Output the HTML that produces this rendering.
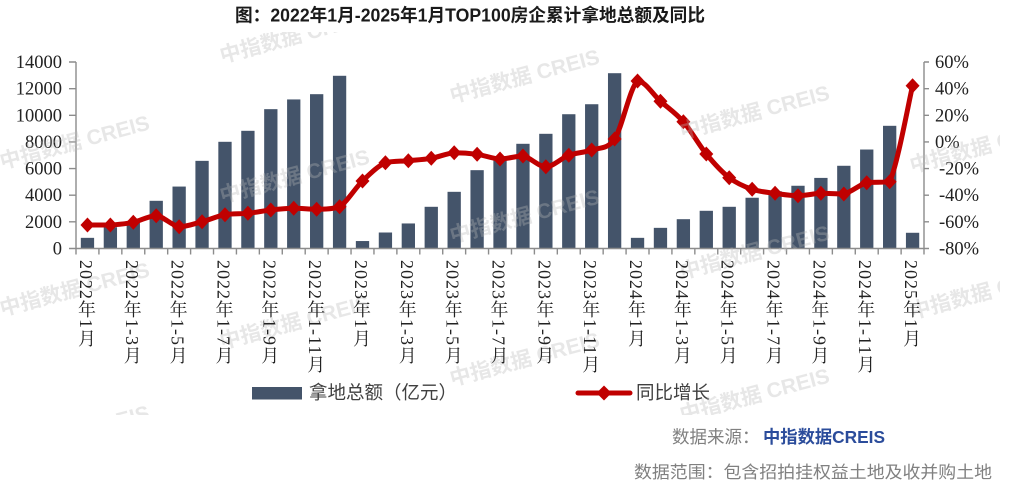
<!DOCTYPE html>
<html>
<head>
<meta charset="utf-8">
<style>
  html,body{margin:0;padding:0;background:#fff;}
  #wrap{position:relative;width:1023px;height:489px;overflow:hidden;background:#fff;}
  svg{position:absolute;left:0;top:0;}
  .xl{position:absolute;top:260px;width:18px;writing-mode:vertical-rl;text-orientation:mixed;
      font-family:"Liberation Serif","Noto Serif CJK SC",serif;font-size:18px;line-height:18px;
      letter-spacing:1px;color:#222;white-space:nowrap;}
</style>
</head>
<body>
<div id="wrap">
<svg width="1023" height="489" viewBox="0 0 1023 489" xmlns="http://www.w3.org/2000/svg">
  <defs>
    <marker id="dm" markerUnits="userSpaceOnUse" markerWidth="16" markerHeight="17" refX="8" refY="8.5" orient="0" viewBox="0 0 16 17">
      <path d="M8,1 L15,8.5 L8,16 L1,8.5 Z" fill="#C00000"/>
    </marker>
    <clipPath id="wmclip"><rect x="0" y="32" width="1000" height="383"/></clipPath>
  </defs>

  <!-- Title -->
  <text x="235" y="21.5" textLength="470" lengthAdjust="spacingAndGlyphs" font-family="'Liberation Sans','Noto Sans CJK SC',sans-serif" font-size="18" font-weight="bold" fill="#1a1a1a">图：2022年1月-2025年1月TOP100房企累计拿地总额及同比</text>

  <!-- Bars -->
  <g fill="#44546A">
    <rect x="80.81" y="237.84" width="13.3" height="10.66"/>
    <rect x="103.73" y="227.19" width="13.3" height="21.31"/>
    <rect x="126.65" y="222.52" width="13.3" height="25.98"/>
    <rect x="149.57" y="200.81" width="13.3" height="47.69"/>
    <rect x="172.49" y="186.56" width="13.3" height="61.94"/>
    <rect x="195.41" y="160.85" width="13.3" height="87.65"/>
    <rect x="218.33" y="141.80" width="13.3" height="106.70"/>
    <rect x="241.25" y="130.81" width="13.3" height="117.69"/>
    <rect x="264.17" y="109.16" width="13.3" height="139.34"/>
    <rect x="287.09" y="99.44" width="13.3" height="149.06"/>
    <rect x="310.01" y="94.18" width="13.3" height="154.32"/>
    <rect x="332.93" y="75.79" width="13.3" height="172.71"/>
    <rect x="355.85" y="241.04" width="13.3" height="7.46"/>
    <rect x="378.77" y="232.51" width="13.3" height="15.99"/>
    <rect x="401.69" y="223.46" width="13.3" height="25.04"/>
    <rect x="424.61" y="206.80" width="13.3" height="41.70"/>
    <rect x="447.53" y="191.82" width="13.3" height="56.68"/>
    <rect x="470.45" y="170.17" width="13.3" height="78.33"/>
    <rect x="493.37" y="156.59" width="13.3" height="91.91"/>
    <rect x="516.29" y="143.80" width="13.3" height="104.70"/>
    <rect x="539.21" y="133.81" width="13.3" height="114.69"/>
    <rect x="562.13" y="114.22" width="13.3" height="134.28"/>
    <rect x="585.05" y="104.23" width="13.3" height="144.27"/>
    <rect x="607.97" y="73.20" width="13.3" height="175.30"/>
    <rect x="630.89" y="237.84" width="13.3" height="10.66"/>
    <rect x="653.81" y="227.85" width="13.3" height="20.65"/>
    <rect x="676.73" y="219.19" width="13.3" height="29.31"/>
    <rect x="699.65" y="210.80" width="13.3" height="37.70"/>
    <rect x="722.57" y="206.80" width="13.3" height="41.70"/>
    <rect x="745.49" y="197.75" width="13.3" height="50.75"/>
    <rect x="768.41" y="191.22" width="13.3" height="57.28"/>
    <rect x="791.33" y="185.76" width="13.3" height="62.74"/>
    <rect x="814.25" y="177.90" width="13.3" height="70.60"/>
    <rect x="837.17" y="165.78" width="13.3" height="82.72"/>
    <rect x="860.09" y="149.53" width="13.3" height="98.97"/>
    <rect x="883.01" y="125.81" width="13.3" height="122.69"/>
    <rect x="905.93" y="232.78" width="13.3" height="15.72"/>
  </g>

  <!-- Axes -->
  <g stroke="#8c8c8c" stroke-width="1.4" fill="none">
    <line x1="76" y1="62" x2="76" y2="248.5"/>
    <line x1="924" y1="62" x2="924" y2="248.5"/>
    <line x1="76" y1="248.5" x2="924" y2="248.5"/>
    <path d="M69,248.5H76M69,221.86H76M69,195.21H76M69,168.57H76M69,141.93H76M69,115.29H76M69,88.64H76M69,62H76"/>
    <path d="M924,62H929M924,88.64H929M924,115.29H929M924,141.93H929M924,168.57H929M924,195.21H929M924,221.86H929M924,248.5H929"/>
    <path d="M76,248.5V254.5M98.92,248.5V254.5M121.84,248.5V254.5M144.76,248.5V254.5M167.68,248.5V254.5M190.6,248.5V254.5M213.52,248.5V254.5M236.44,248.5V254.5M259.36,248.5V254.5M282.28,248.5V254.5M305.2,248.5V254.5M328.12,248.5V254.5M351.04,248.5V254.5M373.96,248.5V254.5M396.88,248.5V254.5M419.8,248.5V254.5M442.72,248.5V254.5M465.64,248.5V254.5M488.56,248.5V254.5M511.48,248.5V254.5M534.4,248.5V254.5M557.32,248.5V254.5M580.24,248.5V254.5M603.16,248.5V254.5M626.08,248.5V254.5M649,248.5V254.5M671.92,248.5V254.5M694.84,248.5V254.5M717.76,248.5V254.5M740.68,248.5V254.5M763.6,248.5V254.5M786.52,248.5V254.5M809.44,248.5V254.5M832.36,248.5V254.5M855.28,248.5V254.5M878.2,248.5V254.5M901.12,248.5V254.5M924,248.5V254.5"/>
  </g>

  <!-- Left axis labels -->
  <g font-family="'Liberation Serif',serif" font-size="18.5" fill="#222" text-anchor="end">
    <text x="62" y="254.5">0</text>
    <text x="62" y="227.9">2000</text>
    <text x="62" y="201.2">4000</text>
    <text x="62" y="174.6">6000</text>
    <text x="62" y="147.9">8000</text>
    <text x="62" y="121.3">10000</text>
    <text x="62" y="94.6">12000</text>
    <text x="62" y="68">14000</text>
  </g>
  <!-- Right axis labels -->
  <g font-family="'Liberation Serif',serif" font-size="18.5" fill="#222">
    <text x="935" y="68">60%</text>
    <text x="935" y="94.6">40%</text>
    <text x="935" y="121.3">20%</text>
    <text x="935" y="147.9">0%</text>
    <text x="939" y="174.6">-20%</text>
    <text x="939" y="201.2">-40%</text>
    <text x="939" y="227.9">-60%</text>
    <text x="939" y="254.5">-80%</text>
  </g>

  <!-- YoY line -->
  <path id="yoy" fill="none" stroke="#C00000" stroke-width="5" stroke-linejoin="round" stroke-linecap="round"
        marker-start="url(#dm)" marker-mid="url(#dm)" marker-end="url(#dm)"
        d="M87.46,225 L110.38,225 L133.30,222.3 L156.22,215.7 L179.14,226.7 L202.06,221.7 L224.98,214.7 L247.90,213.3 L270.82,210 L293.74,208.3 L316.66,209.3 L339.58,206.7 L362.50,181 L385.42,162.7 L408.34,160.7 L431.26,158.3 L454.18,152.7 L477.10,154.3 L500.02,159 L522.94,156 L545.86,166.7 L568.78,155.3 L591.70,150 L614.62,139 L637.54,81 L660.46,101.2 L683.38,121.7 L706.30,154 L729.22,177.7 L752.14,189.3 L775.06,193.3 L797.98,195.7 L820.90,193.3 L843.82,194 L866.74,182.7 L889.66,181.7 L912.58,85.7"/>

  <!-- Legend -->
  <rect x="252" y="387" width="50" height="12.5" fill="#44546A"/>
  <text x="309" y="399" font-family="'Liberation Sans','Noto Sans CJK SC',sans-serif" font-size="18.5" fill="#404040">拿地总额（亿元）</text>
  <line x1="578" y1="393" x2="630" y2="393" stroke="#C00000" stroke-width="5" stroke-linecap="round"/>
  <path d="M604,385.5 L611.5,393 L604,400.5 L596.5,393 Z" fill="#C00000"/>
  <text x="636" y="399" font-family="'Liberation Sans','Noto Sans CJK SC',sans-serif" font-size="18.5" fill="#404040">同比增长</text>

  <!-- Source -->
  <text x="672" y="443" font-family="'Liberation Sans','Noto Sans CJK SC',sans-serif" font-size="17.5" fill="#808080">数据来源：</text>
  <text x="763" y="443" textLength="122" lengthAdjust="spacingAndGlyphs" font-family="'Liberation Sans','Noto Sans CJK SC',sans-serif" font-size="17.5" font-weight="bold" fill="#2B4C9B">中指数据CREIS</text>
  <text x="634" y="478" textLength="358" lengthAdjust="spacingAndGlyphs" font-family="'Liberation Sans','Noto Sans CJK SC',sans-serif" font-size="17" fill="#808080">数据范围：包含招拍挂权益土地及收并购土地</text>

  <!-- Watermarks -->
  <g clip-path="url(#wmclip)" font-family="'Liberation Sans','Noto Sans CJK SC',sans-serif" font-size="21" font-weight="bold" fill="#b8b8b8" fill-opacity="0.34">
    <text x="2" y="169" transform="rotate(-15 2 169)">中指数据 CREIS</text>
    <text x="2" y="316" transform="rotate(-15 2 316)">中指数据 CREIS</text>
    <text x="2" y="459" transform="rotate(-15 2 459)">中指数据 CREIS</text>
    <text x="222" y="63" transform="rotate(-15 222 63)">中指数据 CREIS</text>
    <text x="222" y="203" transform="rotate(-15 222 203)">中指数据 CREIS</text>
    <text x="222" y="349" transform="rotate(-15 222 349)">中指数据 CREIS</text>
    <text x="452" y="103" transform="rotate(-15 452 103)">中指数据 CREIS</text>
    <text x="452" y="243" transform="rotate(-15 452 243)">中指数据 CREIS</text>
    <text x="452" y="386" transform="rotate(-15 452 386)">中指数据 CREIS</text>
    <text x="682" y="139" transform="rotate(-15 682 139)">中指数据 CREIS</text>
    <text x="682" y="279" transform="rotate(-15 682 279)">中指数据 CREIS</text>
    <text x="682" y="422" transform="rotate(-15 682 422)">中指数据 CREIS</text>
    <text x="912" y="30" transform="rotate(-15 912 30)">中指数据 CREIS</text>
    <text x="912" y="173" transform="rotate(-15 912 173)">中指数据 CREIS</text>
    <text x="912" y="319" transform="rotate(-15 912 319)">中指数据 CREIS</text>
  </g>
</svg>

<!-- X axis labels (vertical) -->
<div class="xl" style="left:77px;">2022年1月</div>
<div class="xl" style="left:122.8px;">2022年1-3月</div>
<div class="xl" style="left:168.6px;">2022年1-5月</div>
<div class="xl" style="left:214.5px;">2022年1-7月</div>
<div class="xl" style="left:260.3px;">2022年1-9月</div>
<div class="xl" style="left:306.2px;">2022年1-11月</div>
<div class="xl" style="left:352px;">2023年1月</div>
<div class="xl" style="left:397.8px;">2023年1-3月</div>
<div class="xl" style="left:443.7px;">2023年1-5月</div>
<div class="xl" style="left:489.5px;">2023年1-7月</div>
<div class="xl" style="left:535.4px;">2023年1-9月</div>
<div class="xl" style="left:581.2px;">2023年1-11月</div>
<div class="xl" style="left:627px;">2024年1月</div>
<div class="xl" style="left:672.9px;">2024年1-3月</div>
<div class="xl" style="left:718.7px;">2024年1-5月</div>
<div class="xl" style="left:764.6px;">2024年1-7月</div>
<div class="xl" style="left:810.4px;">2024年1-9月</div>
<div class="xl" style="left:856.2px;">2024年1-11月</div>
<div class="xl" style="left:902.1px;">2025年1月</div>
</div>

<script>
(function(){
  var p=document.getElementById('yoy');
  var d=p.getAttribute('d').replace(/[ML]/g,' ').trim().split(/\s+/).map(function(s){var a=s.split(',');return [parseFloat(a[0]),parseFloat(a[1])];});
  var n=d.length, out='M'+d[0][0]+','+d[0][1];
  function cl(v,a,b){var lo=Math.min(a,b),hi=Math.max(a,b);return Math.max(lo,Math.min(hi,v));}
  for(var i=0;i<n-1;i++){
    var p0=d[i>0?i-1:i],p1=d[i],p2=d[i+1],p3=d[i+2<n?i+2:i+1];
    var c1x=p1[0]+(p2[0]-p0[0])/6,c1y=cl(p1[1]+(p2[1]-p0[1])/6,p1[1],p2[1]);
    var c2x=p2[0]-(p3[0]-p1[0])/6,c2y=cl(p2[1]-(p3[1]-p1[1])/6,p1[1],p2[1]);
    out+=' C'+c1x.toFixed(2)+','+c1y.toFixed(2)+' '+c2x.toFixed(2)+','+c2y.toFixed(2)+' '+p2[0]+','+p2[1];
  }
  p.setAttribute('d',out);
})();
</script>
</body>
</html>
